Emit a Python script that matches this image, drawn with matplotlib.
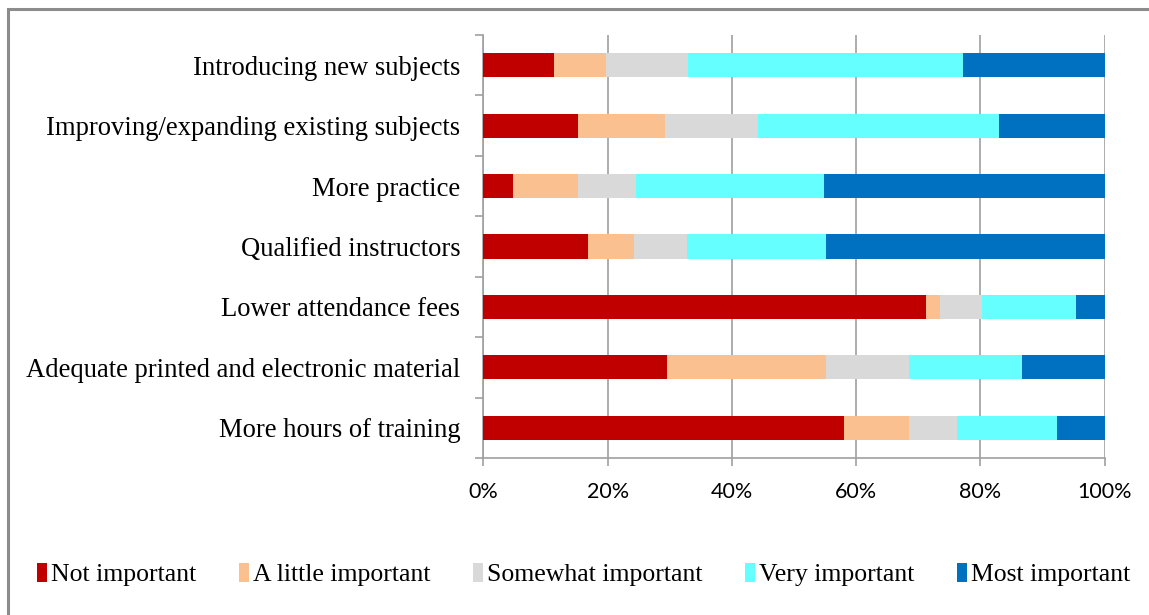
import matplotlib.pyplot as plt
import numpy as np
from matplotlib.patches import Rectangle
from matplotlib.ticker import FixedLocator, PercentFormatter

# Survey items, listed from top to bottom
categories = ['Introducing new subjects',
              'Improving/expanding existing subjects',
              'More practice',
              'Qualified instructors',
              'Lower attendance fees',
              'Adequate printed and electronic material',
              'More hours of training']

levels = ['Not important', 'A little important', 'Somewhat important',
          'Very important', 'Most important']

# share of answers per item (%), one list per level
not_important = [11.3, 15.2, 4.7, 16.8, 71.3, 29.6, 58.0]
little_important = [8.4, 14.0, 10.5, 7.4, 2.2, 25.6, 10.5]
somewhat_important = [13.2, 15.0, 9.3, 8.5, 6.8, 13.3, 7.7]
very_important = [44.3, 38.8, 30.3, 22.5, 15.1, 18.2, 16.1]
most_important = [22.8, 17.0, 45.2, 44.8, 4.6, 13.3, 7.7]

colors = ['#C00000', '#FAC090', '#D9D9D9', '#66FFFF', '#0070C0']

serif = 'Liberation Serif'
sans = 'Lato'

fig = plt.figure(figsize=(11.49, 6.15), dpi=100)
ax = fig.add_axes([0.4207, 0.2553, 0.5407, 0.6878])

series = [not_important, little_important, somewhat_important,
          very_important, most_important]
y = np.arange(len(categories))[::-1]
left = np.zeros(len(categories))
for vals, col, name in zip(series, colors, levels):
    vals = np.array(vals)
    ax.barh(y, vals, left=left, height=0.4, color=col, label=name,
            edgecolor='none', zorder=3)
    left += vals

ax.set_xlim(0, 100)
ax.set_ylim(-0.5, len(categories) - 0.5)
ax.xaxis.set_major_locator(FixedLocator([0, 20, 40, 60, 80, 100]))
ax.xaxis.set_major_formatter(PercentFormatter(decimals=0))
ax.grid(axis='x', color='#A0A0A0', linewidth=1.2, zorder=0)

ax.set_yticks(y)
ax.set_yticklabels(categories, fontfamily=serif, fontsize=19.2)
ax.yaxis.set_minor_locator(FixedLocator(np.arange(-0.5, len(categories), 1.0)))
ax.tick_params(axis='y', which='major', length=0, pad=16.5)
ax.tick_params(axis='y', which='minor', length=6, color='#A0A0A0', width=1.2)
ax.tick_params(axis='x', length=6, color='#A0A0A0', width=1.2, pad=11,
               labelsize=15.5)
for lab in ax.get_xticklabels():
    lab.set_fontfamily(sans)

for side in ['top', 'right']:
    ax.spines[side].set_visible(False)
for side in ['left', 'bottom']:
    ax.spines[side].set_color('#A0A0A0')
    ax.spines[side].set_linewidth(1.2)

leg = fig.legend(loc='center', bbox_to_anchor=(0.508, 0.066), ncol=5,
                 frameon=False, prop={'family': serif, 'size': 18.5},
                 handlelength=0.4, handleheight=0.75, handletextpad=0.15,
                 columnspacing=1.65)

# outer frame around the chart area
fig.patches.append(Rectangle((7.5 / 1149, -0.05), 1.2, 1.05 - 9.5 / 615,
                             transform=fig.transFigure, fill=False,
                             edgecolor='#8C8C8C', linewidth=2.2))

fig.savefig('out.png', dpi=100)
